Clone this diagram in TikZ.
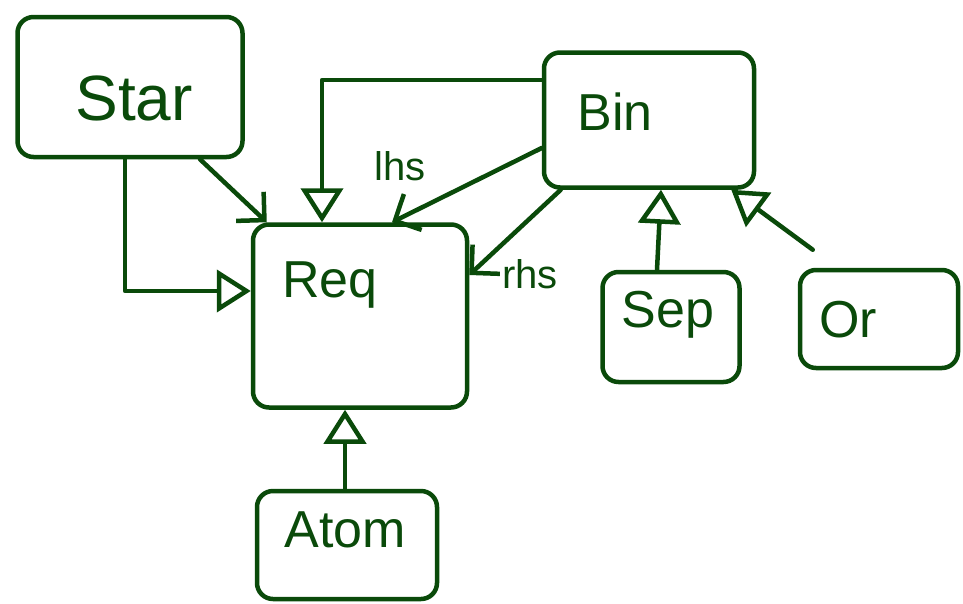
\documentclass[tikz,border=0pt]{standalone}
\usepackage{fontspec}
\setmainfont{Liberation Sans}
\usetikzlibrary{arrows.meta}
\definecolor{ink}{RGB}{10,74,10}
\begin{document}
\begin{tikzpicture}[x=1pt, y=-1pt, line width=4.5pt, line cap=round, line join=round,
		box/.style={draw=ink, rounded corners=16pt, inner sep=0pt},
		classname/.style={text=ink, font=\fontsize{52}{52}\selectfont, inner sep=0pt},
		role/.style={text=ink, font=\fontsize{40}{40}\selectfont, inner sep=0pt},
		inherit/.style={draw=ink, -{Triangle[open, length=34pt, width=42pt]}},
		assoc/.style={draw=ink, -{Straight Barb[length=20pt, width=40pt]}}]
		\useasboundingbox (0,0) rectangle (963,603);

		% classes
		\node [box, minimum width=225pt, minimum height=140pt] (star) at (130,87) {};
		\node [box, minimum width=214pt, minimum height=183pt] (req) at (360,316) {};
		\node [box, minimum width=210pt, minimum height=135pt] (bin) at (649,120) {};
		\node [box, minimum width=137pt, minimum height=110pt] (sep) at (671,327) {};
		\node [box, minimum width=158pt, minimum height=98pt] (or) at (879,319) {};
		\node [box, minimum width=180pt, minimum height=108pt] (atom) at (347,545) {};

		\node [classname, font=\fontsize{64}{64}\selectfont] (starname) at (134,98) {Star};
		\node [classname] (reqname) at (330,285) {Req};
		\node [classname] (binname) at (615,112) {Bin};
		\node [classname] (sepname) at (668,315) {Sep};
		\node [classname] (orname) at (848,320) {Or};
		\node [classname] (atomname) at (345,530) {Atom};

		% subclasses
		\draw [inherit] ([xshift=-5pt]star.south) |- ([yshift=25pt]req.west);
		\draw [inherit] ([yshift=40pt]bin.west) -| ([xshift=-38pt]req.north);
		\draw [inherit] ([xshift=-2pt]atom.north) to ([xshift=-15pt]req.south);
		\draw [inherit] ([xshift=-14pt]sep.north) to ([xshift=12pt]bin.south);
		\draw [inherit] ([xshift=15pt, yshift=18pt]or.north west) to ([xshift=-25pt]bin.south east);

		% associations
		\draw [assoc] ([xshift=70pt]star.south) to ([xshift=16pt]req.north west);
		\draw [assoc] ([yshift=-28pt]bin.west) to ([xshift=32pt]req.north);
		\draw [assoc] ([xshift=19pt]bin.south west) to ([yshift=41pt]req.east);

		\node [role] (lhs) at (400,166) {lhs};
		\node [role] (rhs) at (530,274) {rhs};
	\end{tikzpicture}
\end{document}
